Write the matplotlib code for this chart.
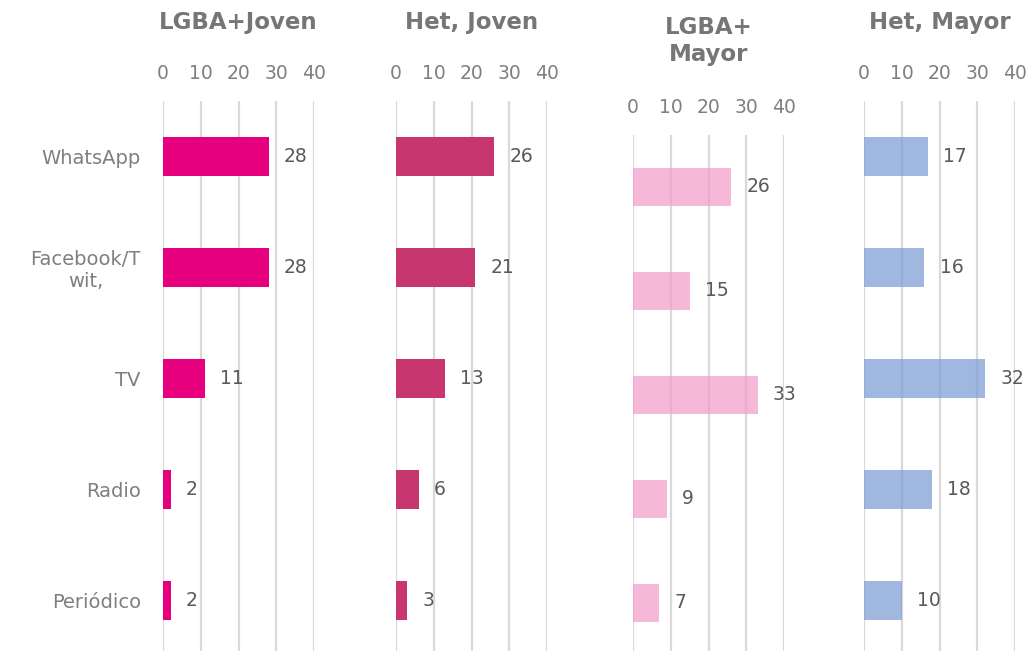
import numpy as np
import matplotlib
matplotlib.use("Agg")
import matplotlib.pyplot as plt

# Data
categories = ['WhatsApp', 'Facebook/T\nwit,', 'TV', 'Radio', 'Periódico']
lgba_joven = [28, 28, 11, 2, 2]
het_joven = [26, 21, 13, 6, 3]
lgba_mayor = [26, 15, 33, 9, 7]
het_mayor = [17, 16, 32, 18, 10]
titles = ['LGBA+Joven', 'Het, Joven', 'LGBA+\nMayor', 'Het, Mayor']
ticks = [0, 10, 20, 30, 40]

plt.rcParams['font.family'] = ['DejaVu Sans']

W, H = 1028, 651
fig = plt.figure(figsize=(W / 100, H / 100), dpi=100)

# panel boxes in pixels: left, top, bottom
panels = [
    (163, 101, 656, lgba_joven, '#E6007E', 1.0),
    (396, 101, 656, het_joven, '#C8366F', 1.0),
    (633, 135, 655, lgba_mayor, '#F3A0CB', 0.75),
    (864, 101, 656, het_mayor, '#809FD6', 0.75),
]
width_px = 151

y = np.arange(len(categories))
for i, (left, top, bottom, vals, color, alpha) in enumerate(panels):
    ax = fig.add_axes([left / W, 1 - bottom / H, width_px / W, (bottom - top) / H])
    ax.set_axisbelow(True)
    ax.barh(y, vals, height=0.36, color=color, alpha=alpha, zorder=2)
    ax.set_xlim(0, 40)
    ax.set_ylim(len(categories) - 0.5, -0.5)
    ax.set_xticks(ticks)
    ax.xaxis.tick_top()
    ax.tick_params(axis='x', length=0, pad=13, labelsize=13.5, labelcolor='#7f7f7f')
    ax.grid(axis='x', color='#d9d9d9', lw=1.6, zorder=1)
    for s in ax.spines.values():
        s.set_visible(False)
    if i == 0:
        ax.set_yticks(y)
        ax.set_yticklabels(categories, fontsize=14, color='#7f7f7f', ha='right',
                           multialignment='center')
        ax.tick_params(axis='y', length=0, pad=16)
    else:
        ax.set_yticks([])
    for yy, v in zip(y, vals):
        ax.annotate(str(v), (v, yy), xytext=(11, 0), textcoords='offset points',
                    ha='left', va='center', fontsize=13.5, color='#595959',
                    annotation_clip=False)
    cx = (left + width_px / 2) / W
    if '\n' in titles[i]:
        fig.text(cx, 1 - 41 / H, titles[i], ha='center', va='center', fontsize=16.5,
                 fontweight='bold', color='#767676', linespacing=1.25)
    else:
        fig.text(cx, 1 - 23 / H, titles[i], ha='center', va='center', fontsize=16.5,
                 fontweight='bold', color='#767676')

fig.savefig('out.png', dpi=100)
